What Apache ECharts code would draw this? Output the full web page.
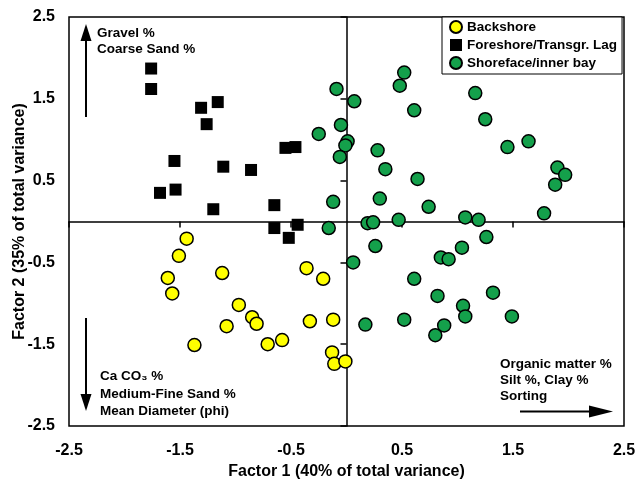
<!DOCTYPE html>
<html>
<head>
<meta charset="utf-8">
<script src="https://cdn.jsdelivr.net/npm/echarts@6/dist/echarts.min.js"></script>
<style>html,body{margin:0;padding:0;background:#fff}#c{width:636px;height:481px}</style>
</head>
<body>
<div id="c"></div>
<script>
const seriesNames = ['Backshore', 'Foreshore/Transgr. Lag', 'Shoreface/inner bay'];
const xTitle = 'Factor 1 (40% of total variance)';
const yTitle = 'Factor 2 (35% of total variance)';
const axisMin = -2.5, axisMax = 2.5, axisStep = 1;

const backshore = [
  [-1.44,-0.21],[-1.51,-0.42],[-1.61,-0.69],[-1.57,-0.88],[-1.12,-0.63],[-0.97,-1.02],
  [-0.85,-1.17],[-0.81,-1.25],[-1.08,-1.28],[-1.37,-1.51],[-0.71,-1.50],[-0.58,-1.45],
  [-0.36,-0.57],[-0.21,-0.70],[-0.33,-1.22],[-0.12,-1.20],[-0.13,-1.60],[-0.11,-1.74],[-0.01,-1.71]
];
const foreshore = [
  [-1.76,1.87],[-1.76,1.62],[-1.31,1.39],[-1.16,1.46],[-1.26,1.19],[-1.55,0.74],[-1.11,0.67],
  [-0.86,0.63],[-0.55,0.90],[-0.46,0.91],[-1.68,0.35],[-1.54,0.39],[-1.20,0.15],[-0.65,0.20],
  [-0.65,-0.08],[-0.44,-0.04],[-0.52,-0.20]
];
const shoreface = [
  [-0.09,1.62],[0.07,1.47],[0.52,1.82],[0.48,1.66],[0.61,1.36],[-0.05,1.18],[-0.25,1.07],
  [0.01,0.98],[-0.01,0.93],[-0.06,0.79],[0.28,0.87],[0.35,0.64],[0.64,0.52],[-0.12,0.24],
  [0.30,0.28],[0.74,0.18],[-0.16,-0.08],[0.19,-0.02],[0.24,-0.01],[0.47,0.02],[1.07,0.05],
  [1.16,1.57],[1.25,1.25],[1.45,0.91],[1.64,0.98],[1.90,0.66],[1.97,0.57],[1.88,0.45],
  [1.78,0.10],[1.19,0.02],[1.26,-0.19],[1.04,-0.32],
  [0.06,-0.50],[0.26,-0.30],[0.85,-0.44],[0.92,-0.46],[0.61,-0.70],[0.82,-0.91],[1.32,-0.87],
  [1.05,-1.03],[1.07,-1.16],[1.49,-1.16],[0.52,-1.20],[0.17,-1.26],[0.88,-1.27],[0.80,-1.39]
];

const upLabels = ['Gravel %', 'Coarse Sand %'];
const downLabels = ['Ca CO\u2083 %', 'Medium-Fine Sand %', 'Mean Diameter (phi)'];
const rightLabels = ['Organic matter %', 'Silt %, Clay %', 'Sorting'];

const FONT = '"Liberation Sans", Arial, sans-serif';
const chart = echarts.init(document.getElementById('c'), null, {renderer: 'canvas'});

function txt(t, x, y) {
  return {type: 'text', x: x, y: y, z: 50,
    style: {text: t, fill: '#000', font: 'bold 13.5px ' + FONT, verticalAlign: 'middle', align: 'left'}};
}
const graphics = [
  {type: 'line', shape: {x1: 86, y1: 117, x2: 86, y2: 38}, style: {stroke: '#000', lineWidth: 2}, z: 50},
  {type: 'polygon', shape: {points: [[86, 24], [80.5, 41], [91.5, 41]]}, style: {fill: '#000'}, z: 50},
  {type: 'line', shape: {x1: 86, y1: 318, x2: 86, y2: 398}, style: {stroke: '#000', lineWidth: 2}, z: 50},
  {type: 'polygon', shape: {points: [[86, 411], [80.5, 394], [91.5, 394]]}, style: {fill: '#000'}, z: 50},
  {type: 'line', shape: {x1: 520, y1: 411.5, x2: 600, y2: 411.5}, style: {stroke: '#000', lineWidth: 2}, z: 50},
  {type: 'polygon', shape: {points: [[613, 411.5], [589, 405.5], [589, 417.5]]}, style: {fill: '#000'}, z: 50},
  txt(upLabels[0], 97, 33), txt(upLabels[1], 97, 49),
  txt(downLabels[0], 100, 376), txt(downLabels[1], 100, 394), txt(downLabels[2], 100, 411),
  txt(rightLabels[0], 500, 364), txt(rightLabels[1], 500, 380), txt(rightLabels[2], 500, 396)
];

const labelStyle = {color: '#000', fontWeight: 'bold', fontSize: 16, fontFamily: FONT};
const nameStyle = {color: '#000', fontWeight: 'bold', fontSize: 16, fontFamily: FONT};

chart.setOption({
  animation: false,
  backgroundColor: '#fff',
  grid: {left: 69, right: 12, top: 17, bottom: 55, containLabel: false, outerBoundsMode: 'none',
    show: true, borderColor: '#000', borderWidth: 1.5, backgroundColor: 'transparent'},
  legend: {
    data: seriesNames, orient: 'vertical', left: 442, top: 17,
    padding: [3, 5, 4, 7], itemWidth: 12, itemHeight: 12, itemGap: 4,
    backgroundColor: '#fff', borderColor: '#000', borderWidth: 1, borderRadius: 0,
    textStyle: {color: '#000', fontWeight: 'bold', fontSize: 13.5, fontFamily: FONT},
    z: 60
  },
  xAxis: [
    {type: 'value', min: axisMin, max: axisMax, interval: axisStep, position: 'bottom',
      axisLine: {show: false}, axisTick: {show: false}, splitLine: {show: false},
      axisLabel: Object.assign({margin: 17}, labelStyle),
      name: xTitle, nameLocation: 'middle', nameGap: 38, nameMoveOverlap: false, nameTextStyle: nameStyle},
    {type: 'value', min: axisMin, max: axisMax, interval: axisStep, position: 'top',
      axisLine: {show: true, onZero: true, onZeroAxisIndex: 0, lineStyle: {color: '#000', width: 1.5}},
      axisTick: {show: true, inside: true, length: 6, lineStyle: {color: '#000', width: 1.5}},
      axisLabel: {show: false}, splitLine: {show: false}}
  ],
  yAxis: [
    {type: 'value', min: axisMin, max: axisMax, interval: axisStep, position: 'left',
      axisLine: {show: false}, axisTick: {show: false}, splitLine: {show: false},
      axisLabel: Object.assign({margin: 14}, labelStyle),
      name: yTitle, nameLocation: 'middle', nameGap: 41, nameRotate: 90, nameMoveOverlap: false, nameTextStyle: nameStyle},
    {type: 'value', min: axisMin, max: axisMax, interval: axisStep, position: 'right',
      axisLine: {show: true, onZero: true, onZeroAxisIndex: 0, lineStyle: {color: '#000', width: 1.5}},
      axisTick: {show: true, inside: true, length: 6, lineStyle: {color: '#000', width: 1.5}},
      axisLabel: {show: false}, splitLine: {show: false}}
  ],
  series: [
    {name: seriesNames[0], type: 'scatter', data: backshore, symbol: 'circle', symbolSize: 13,
      itemStyle: {color: '#ffff00', borderColor: '#000', borderWidth: 1.5, opacity: 1}, z: 3},
    {name: seriesNames[1], type: 'scatter', data: foreshore, symbol: 'rect', symbolSize: 12,
      itemStyle: {color: '#000', opacity: 1}, z: 3},
    {name: seriesNames[2], type: 'scatter', data: shoreface, symbol: 'circle', symbolSize: 13,
      itemStyle: {color: '#14a04b', borderColor: '#000', borderWidth: 1.5, opacity: 1}, z: 3}
  ],
  graphic: graphics
});
</script>
</body>
</html>
